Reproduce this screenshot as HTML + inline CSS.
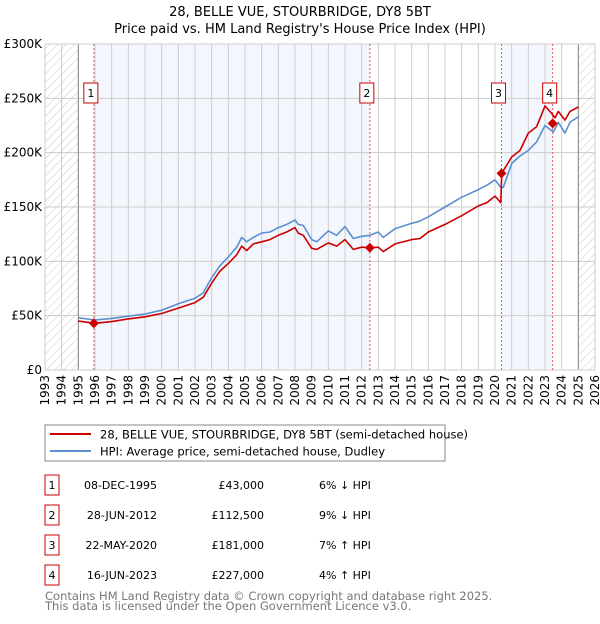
<!DOCTYPE html>
<html><head><meta charset="utf-8"><style>
body{margin:0;background:#fff;font-family:"DejaVu Sans","Liberation Sans",sans-serif;}
svg text{font-family:"DejaVu Sans","Liberation Sans",sans-serif;}
</style></head><body>
<svg id="chart" width="600" height="620" xmlns="http://www.w3.org/2000/svg">
<defs><pattern id="hatch" patternUnits="userSpaceOnUse" width="6" height="6" patternTransform="rotate(45)"><line x1="0" y1="0" x2="0" y2="6" stroke="#bbb" stroke-width="0.8"/></pattern></defs>
<text x="300" y="16" text-anchor="middle" font-size="13">28, BELLE VUE, STOURBRIDGE, DY8 5BT</text>
<text x="300" y="33" text-anchor="middle" font-size="13">Price paid vs. HM Land Registry's House Price Index (HPI)</text>
<g id="plot"></g>
<g>
<rect x="45" y="425" width="400" height="36" fill="#fff" stroke="#888"/>
<line x1="50" y1="434" x2="91" y2="434" stroke="#cc0000" stroke-width="2"/>
<text x="100" y="438.5" font-size="11.5">28, BELLE VUE, STOURBRIDGE, DY8 5BT (semi-detached house)</text>
<line x1="50" y1="451" x2="91" y2="451" stroke="#5b8fd1" stroke-width="2"/>
<text x="100" y="455.5" font-size="11.5">HPI: Average price, semi-detached house, Dudley</text>
</g>
<g id="table"></g>
<text x="45" y="600" font-size="11.5" fill="#777">Contains HM Land Registry data © Crown copyright and database right 2025.</text>
<text x="45" y="610" font-size="11.5" fill="#777">This data is licensed under the Open Government Licence v3.0.</text>
</svg>
<script>
const years=[1993,1994,1995,1996,1997,1998,1999,2000,2001,2002,2003,2004,2005,2006,2007,2008,2009,2010,2011,2012,2013,2014,2015,2016,2017,2018,2019,2020,2021,2022,2023,2024,2025,2026];
const yTicks=[0,50,100,150,200,250,300];
const yTickLabels=["£0","£50K","£100K","£150K","£200K","£250K","£300K"];
const hpiT=[1995,1996,1997,1998,1999,2000,2001,2002,2002.5,2003,2003.5,2004,2004.5,2004.8,2005.1,2005.5,2006,2006.5,2007,2007.5,2008,2008.2,2008.5,2009,2009.3,2010,2010.5,2011,2011.5,2012,2012.5,2013,2013.3,2014,2015,2015.5,2016,2017,2018,2019,2019.5,2020,2020.35,2020.5,2021,2021.5,2022,2022.5,2023,2023.5,2023.8,2024.2,2024.5,2025];
const hpiV=[48,46,47.5,49.5,51.5,55,61,66,71,85,96,104,113,122,118,122,126,127,131,134,138,134,133,120,118,128,124,132,121,123,124,127,122,130,135,137,141,150,159,166,170,175,168,168,190,197,202,210,225,219,228,218,228,233];
const redT=[1995,1996,1997,1998,1999,2000,2001,2002,2002.5,2003,2003.5,2004,2004.5,2004.8,2005.1,2005.5,2006,2006.5,2007,2007.5,2008,2008.2,2008.5,2009,2009.3,2010,2010.5,2011,2011.5,2012,2012.5,2013,2013.3,2014,2015,2015.5,2016,2017,2018,2019,2019.5,2020,2020.35,2020.4,2021,2021.5,2022,2022.5,2023,2023.4,2023.6,2023.8,2024.2,2024.5,2025];
const redV=[45,43,44.5,47,49,52,57,62,67,80,91,98,106,114,110,116,118,120,124,127,131,126,124,112,111,117,114,120,111,113,112.5,113,109,116,120,121,127,134,142,151,154,160,154,181,196,202,218,224,243,236,232,238,230,238,242];
const saleT=[1995.93,2012.49,2020.39,2023.46];
const saleV=[43,112.5,181,227];
const saleLabels=["1","2","3","4"];
const saleDates=["08-DEC-1995","28-JUN-2012","22-MAY-2020","16-JUN-2023"];
const salePrices=["£43,000","£112,500","£181,000","£227,000"];
const saleHpi=["6% ↓ HPI","9% ↓ HPI","7% ↑ HPI","4% ↑ HPI"];
const X0=45,X1=595,Y0=370,Y1=44;
const x=t=>X0+(t-1993)/33*(X1-X0);
const y=v=>Y0-v/300*(Y0-Y1);
const NS="http://www.w3.org/2000/svg";
function mk(p,tag,a){const e=document.createElementNS(NS,tag);for(const k in a)e.setAttribute(k,a[k]);p.appendChild(e);return e;}
const plot=document.getElementById('plot');
// shaded bands
for(let i=0;i<saleT.length;i+=2){const r=mk(plot,'rect',{x:x(saleT[i]),y:Y1,width:x(i+1<saleT.length?saleT[i+1]:2025)-x(saleT[i]),height:Y0-Y1,fill:'#eef3fc',opacity:0.7});

}
// grid
years.forEach(t=>{const l=mk(plot,'line',{x1:x(t),x2:x(t),y1:Y1,y2:Y0,stroke:'#ccc','stroke-width':1});

});
yTicks.forEach((v,i)=>{const l=mk(plot,'line',{x1:X0,x2:X1,y1:y(v),y2:y(v),stroke:'#ccc','stroke-width':1});


const tx=mk(plot,'text',{x:X0-3,y:y(v)+4,'text-anchor':'end','font-size':12});tx.textContent=yTickLabels[i];

});
// hatch
[[1993,1995],[2025,2026]].forEach(r=>{const h=mk(plot,'rect',{x:x(r[0]),y:Y1,width:x(r[1])-x(r[0]),height:Y0-Y1,fill:'url(#hatch)'});


mk(plot,'line',{x1:x(r[0]===1993?1995:2025),x2:x(r[0]===1993?1995:2025),y1:Y1,y2:Y0,stroke:'#888','stroke-width':1});});
mk(plot,'rect',{x:X0,y:Y1,width:X1-X0,height:Y0-Y1,fill:'none',stroke:'#ccc'});
years.forEach(t=>{const tx=mk(plot,'text',{transform:`translate(${x(t)+4},${Y0+5}) rotate(-90)`,'text-anchor':'end','font-size':12});tx.textContent=t;

});
// sale lines & labels
saleT.forEach((t,i)=>{const l=mk(plot,'line',{x1:x(t),x2:x(t),y1:Y1,y2:Y0,stroke:'#e55','stroke-width':1,'stroke-dasharray':'2,2'});


const g=mk(plot,'g',{});


mk(g,'rect',{x:x(t)-10,y:83,width:14,height:20,fill:'#fff',stroke:'#c00'});
const tx=mk(g,'text',{x:x(t)-3,y:97,'text-anchor':'middle','font-size':11});tx.textContent=saleLabels[i];});
function line(T,V,col,name){const p=mk(plot,'path',{d:T.map((t,i)=>(i?'L':'M')+x(t).toFixed(1)+','+y(V[i]).toFixed(1)).join(''),fill:'none',stroke:col,'stroke-width':1.6,'stroke-linejoin':'round'});

}
line(hpiT,hpiV,'#5b8fd1','hpi-line');
line(redT,redV,'#cc0000','price-paid-line');
saleT.forEach((t,i)=>{const d=mk(plot,'path',{d:`M${x(t)},${y(saleV[i])-5}l5,5l-5,5l-5,-5z`,fill:'#cc0000'});

});
// table
const tb=document.getElementById('table');
saleLabels.forEach((s,i)=>{const yy=485+i*30;const g=mk(tb,'g',{});


mk(g,'rect',{x:45,y:yy-10,width:14,height:20,fill:'#fff',stroke:'#c00'});
const a=mk(g,'text',{x:52,y:yy+4,'text-anchor':'middle','font-size':11});a.textContent=s;
const b=mk(g,'text',{x:157,y:yy+4,'text-anchor':'end','font-size':11});b.textContent=saleDates[i];
const c=mk(g,'text',{x:264,y:yy+4,'text-anchor':'end','font-size':11});c.textContent=salePrices[i];
const d=mk(g,'text',{x:319,y:yy+4,'font-size':11});d.textContent=saleHpi[i];});
</script>
</body></html>
